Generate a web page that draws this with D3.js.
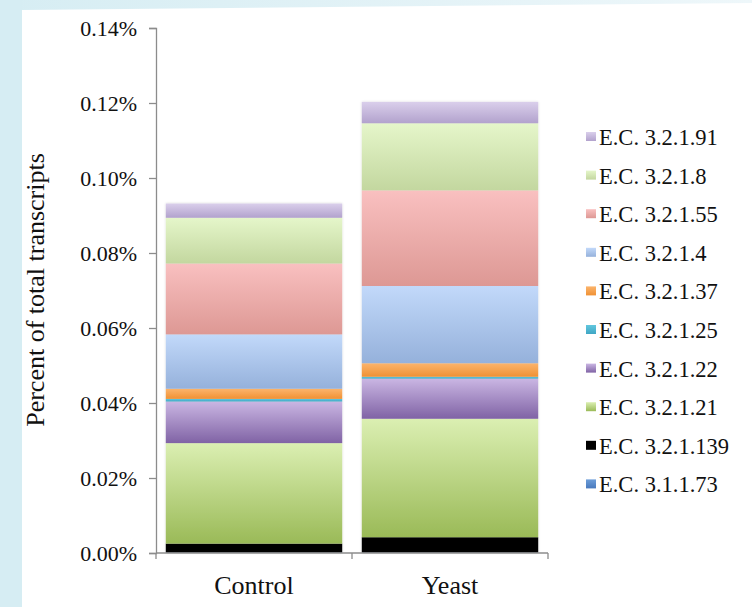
<!DOCTYPE html>
<html>
<head>
<meta charset="utf-8">
<script src="https://cdn.jsdelivr.net/npm/d3@7"></script>
<style>
  html, body { margin: 0; padding: 0; background: #fff; }
  svg { display: block; }
  text { font-family: "Liberation Serif", "Times New Roman", serif; fill: #111; }
</style>
</head>
<body>
<svg id="chart" width="752" height="607"></svg>
<script>
// Sample groups along the x axis
const categories = ["Control", "Yeast"];

// Enzyme classes, stacked from the bottom of each bar upward
const ecClasses = [
  "E.C. 3.1.1.73", "E.C. 3.2.1.139", "E.C. 3.2.1.21", "E.C. 3.2.1.22", "E.C. 3.2.1.25",
  "E.C. 3.2.1.37", "E.C. 3.2.1.4", "E.C. 3.2.1.55", "E.C. 3.2.1.8", "E.C. 3.2.1.91"
];

// Percent of total transcripts per class (same order as ecClasses)
const controlValues = [0.0001, 0.0024, 0.0268, 0.0111, 0.0007, 0.0027, 0.0145, 0.0189, 0.0122, 0.0038];
const yeastValues   = [0.0001, 0.0041, 0.0316, 0.0107, 0.0005, 0.0036, 0.0206, 0.0255, 0.0179, 0.0057];

// Y axis tick values (percent)
const yTicks = [0, 0.02, 0.04, 0.06, 0.08, 0.10, 0.12, 0.14];

// Light (top) and dark (bottom) shade for each class
const topColors = ["#6d9ed9", "#000000", "#dbefb2", "#cab6e3", "#62c7de", "#fbb46c", "#c2d9fa", "#f9c0c0", "#e5f6ca", "#dacfeb"];
const bottomColors = ["#4879bd", "#000000", "#9aba57", "#8063a5", "#3fa6c4", "#f09134", "#95b1db", "#dd9894", "#c3d79f", "#b2a2cd"];

const SERIF = '"Liberation Serif", "Times New Roman", serif';

const svg = d3.select("#chart").attr("font-family", SERIF);
const W = 752, H = 607;

// Page frame: pale cyan border along the left and top edges
const defs = svg.append("defs");
const frameGrad = defs.append("linearGradient").attr("id", "frameTop")
  .attr("x1", "0").attr("x2", "1").attr("y1", "0").attr("y2", "0");
frameGrad.append("stop").attr("offset", "0").attr("stop-color", "#d6edf3");
frameGrad.append("stop").attr("offset", "1").attr("stop-color", "#eef7fa");
svg.append("rect").attr("width", W).attr("height", H).attr("fill", "#ffffff");
svg.append("path").attr("d", `M0,0 L${W},0 L${W},3 L22,10 L0,10 Z`).attr("fill", "url(#frameTop)");
svg.append("rect").attr("x", 0).attr("y", 0).attr("width", 22).attr("height", H).attr("fill", "#d6edf3");

// Vertical gradients, one per class
ecClasses.forEach((name, i) => {
  const g = defs.append("linearGradient").attr("id", "grad" + i)
    .attr("x1", "0").attr("x2", "0").attr("y1", "0").attr("y2", "1");
  g.append("stop").attr("offset", "0").attr("stop-color", topColors[i]);
  g.append("stop").attr("offset", "1").attr("stop-color", bottomColors[i]);
});

// Soft shadow behind the bars
const shadow = defs.append("filter").attr("id", "barShadow")
  .attr("x", "-5%").attr("y", "-5%").attr("width", "110%").attr("height", "110%");
shadow.append("feDropShadow").attr("dx", 0).attr("dy", 0).attr("stdDeviation", 1.2)
  .attr("flood-color", "#000").attr("flood-opacity", 0.18);

const axisLeftX = 156, axisRightX = 548;

const x = d3.scaleBand().domain(categories)
  .range([axisLeftX, axisRightX]).paddingInner(0.1).paddingOuter(0.05);
const y = d3.scaleLinear().domain([0, 0.14]).range([553, 28]);

// Build rows and stack them
const rows = categories.map((c, ci) => {
  const vals = ci === 0 ? controlValues : yeastValues;
  const row = { category: c };
  ecClasses.forEach((k, i) => { row[k] = vals[i]; });
  return row;
});
const series = d3.stack().keys(ecClasses)(rows);

const barsG = svg.append("g").attr("filter", "url(#barShadow)");
series.forEach((s, i) => {
  barsG.selectAll(null).data(s).join("rect")
    .attr("x", d => x(d.data.category))
    .attr("width", x.bandwidth())
    .attr("y", d => y(d[1]))
    .attr("height", d => Math.max(0, y(d[0]) - y(d[1])))
    .attr("fill", `url(#grad${i})`);
});

// Y axis
const yAxis = svg.append("g").attr("transform", `translate(${axisLeftX},0)`)
  .call(d3.axisLeft(y).tickValues(yTicks).tickSize(7).tickPadding(12)
    .tickFormat(d => d.toFixed(2) + "%"))
  .attr("font-family", SERIF);
yAxis.select(".domain").attr("stroke", "#8c8c8c").attr("stroke-width", 1.3);
yAxis.selectAll(".tick line").attr("stroke", "#8c8c8c").attr("stroke-width", 1.3);
yAxis.selectAll(".tick text").attr("font-family", SERIF).style("font-size", "22px").attr("fill", "#111");

// X axis: boundary ticks between the categories
const xAxisG = svg.append("g").attr("transform", `translate(0,${y(0)})`);
xAxisG.append("line").attr("x1", axisLeftX).attr("x2", axisRightX)
  .attr("stroke", "#8c8c8c").attr("stroke-width", 1.3);
const bounds = [axisLeftX, (x("Control") + x.bandwidth() + x("Yeast")) / 2, axisRightX];
xAxisG.selectAll(".bt").data(bounds).join("line")
  .attr("x1", d => d).attr("x2", d => d).attr("y1", 0).attr("y2", 6)
  .attr("stroke", "#8c8c8c").attr("stroke-width", 1.3);
xAxisG.selectAll(".cl").data(categories).join("text")
  .attr("x", d => x(d) + x.bandwidth() / 2)
  .attr("y", 41)
  .attr("text-anchor", "middle")
  .style("font-size", "26px")
  .text(d => d);

// Y axis title
svg.append("text")
  .attr("transform", "translate(44,290) rotate(-90)")
  .attr("text-anchor", "middle")
  .style("font-size", "26px")
  .text("Percent of total transcripts");

// Legend, top entry is the last stacked class
const legendItems = ecClasses.map((name, i) => ({ name, i })).reverse();
const legend = svg.append("g");
const lg = legend.selectAll("g").data(legendItems).join("g")
  .attr("transform", (d, k) => `translate(586,${137 + k * 38.6})`);
lg.append("rect").attr("x", 0).attr("y", -5).attr("width", 10).attr("height", 9)
  .attr("fill", d => `url(#grad${d.i})`);
lg.append("text").attr("x", 13).attr("y", 8)
  .style("font-size", "22.5px")
  .text(d => d.name);
</script>
</body>
</html>
